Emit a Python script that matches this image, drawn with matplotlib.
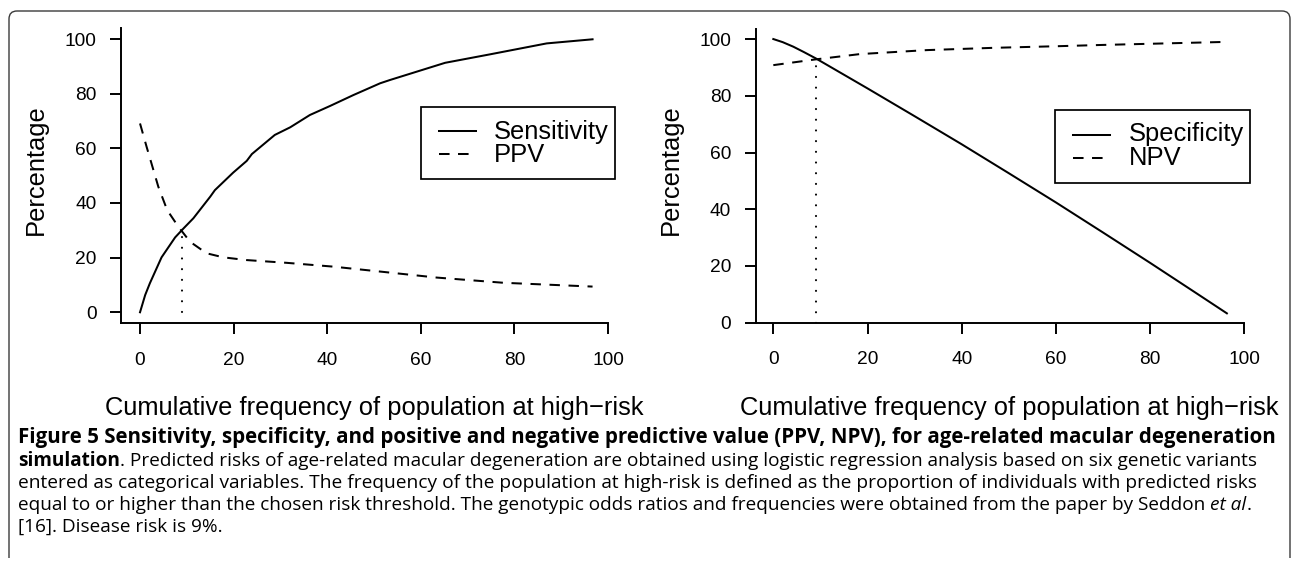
import matplotlib
matplotlib.use("Agg")
import matplotlib.pyplot as plt
from matplotlib.path import Path
from matplotlib.patches import PathPatch, Rectangle
from matplotlib.lines import Line2D
from matplotlib.transforms import Affine2D, blended_transform_factory

W, H, DPI = 1292, 568, 100

# values (percent)
sens_x = [0, 1.1, 2.1, 4.6, 7.5, 9.3, 11.4, 15.0, 16.0, 19.9, 22.8, 23.9, 28.8,
          32.1, 36.3, 40.6, 45.6, 51.3, 53.4, 65.2, 74.8, 86.9, 96.7]
sens_y = [0, 6.3, 10.6, 20.1, 27.4, 30.7, 34.4, 42.3, 44.7, 51.1, 55.4, 57.9, 64.9,
          67.7, 72.2, 75.5, 79.5, 83.8, 85.0, 91.3, 94.4, 98.4, 99.9]
ppv_x = [0, 1.4, 3.9, 5.8, 8.2, 10.7, 14.2, 17.8, 22.8, 31.3, 41.3, 51.3, 63.4, 77.6, 96.7]
ppv_y = [69.1, 60.6, 46.0, 37.4, 31.3, 25.8, 21.6, 20.1, 19.1, 18.1, 16.7, 14.9, 12.7, 10.8, 9.4]

spec_x = [0, 2, 4.25, 6.5, 9, 20, 30, 40, 50, 60, 70, 80, 90, 96.3]
spec_y = [100, 98.9, 97.3, 95.4, 93.2, 82.6, 72.8, 62.9, 52.7, 42.4, 31.8, 21.1, 10.2, 3.3]
npv_x = [0, 8.85, 18.4, 32.6, 46.7, 60.9, 69.4, 96.3]
npv_y = [90.8, 92.8, 94.7, 96.1, 96.9, 97.5, 97.9, 99.0]

risk = 9
cut_left = 29.8
cut_right = 92.8

xticks = [0, 20, 40, 60, 80, 100]
yticks = [0, 20, 40, 60, 80, 100]
xlab = "Cumulative frequency of population at high\u2212risk"
ylab = "Percentage"

caption = [
    [("Figure 5 Sensitivity, specificity, and positive and negative predictive value "
      "(PPV, NPV), for age-related macular degeneration", "bold", "normal")],
    [("simulation", "bold", "normal"),
     (". Predicted risks of age-related macular degeneration are obtained using logistic "
      "regression analysis based on six genetic variants", "normal", "normal")],
    [("entered as categorical variables. The frequency of the population at high-risk is "
      "defined as the proportion of individuals with predicted risks", "normal", "normal")],
    [("equal to or higher than the chosen risk threshold. The genotypic odds ratios and "
      "frequencies were obtained from the paper by Seddon", "normal", "normal"),
     (" et al", "normal", "italic"), (".", "normal", "normal")],
    [("[16]. Disease risk is 9%.", "normal", "normal")],
]
# right end of each caption line in the reference (pixels), None = same size as line above
caption_end = [1278, 1250, 1247, 1247, None]

plt.rcParams['font.family'] = ['Liberation Sans', 'DejaVu Sans']
plt.rcParams['lines.scale_dashes'] = False

LW = 1.45
BIG = 18.4
DASH = (0, (7.5, 6.2))

fig = plt.figure(figsize=(W / DPI, H / DPI), dpi=DPI)
# pixel coords measured from the top left corner
pix = Affine2D().scale(1 / W, -1 / H).translate(0, 1) + fig.transFigure


def panel(box, xlim, ylim, solid, dashed, cut, names, lbox, ylab_x):
    x0, y0, x1, y1 = box
    ax = fig.add_axes([x0 / W, 1 - y1 / H, (x1 - x0) / W, (y1 - y0) / H])
    ax.set_xlim(xlim)
    ax.set_ylim(ylim)
    ax.patch.set_visible(False)
    ax.plot(*solid, color='black', lw=LW, solid_joinstyle='round', clip_on=False)
    ax.plot(*dashed, color='black', lw=LW, linestyle=DASH, clip_on=False)
    ax.plot([risk, risk], [0, cut], color='black', lw=1.5,
            linestyle=(0, (0.1, 7.6)), dash_capstyle='round')
    for s in ('top', 'right'):
        ax.spines[s].set_visible(False)
    for s in ('left', 'bottom'):
        ax.spines[s].set_linewidth(1.4)
        ax.spines[s].set_capstyle('projecting')
    ax.set_xticks(xticks)
    ax.set_yticks(yticks)
    ax.tick_params(direction='out', length=8.2, width=1.4, labelsize=13.8, colors='black')
    ax.tick_params(axis='x', pad=12.3)
    ax.tick_params(axis='y', pad=9.5)

    tr = blended_transform_factory(ax.transData, pix)
    ax.text(50, 415, xlab, transform=tr, ha='center', va='baseline', fontsize=BIG)
    fig.text(ylab_x / W, 1 - 170 / H, ylab, rotation=90, ha='center', va='center', fontsize=BIG)

    # legend
    bx0, by0, bx1, by1, hx0, hx1, hy, ty, tx = lbox
    fig.add_artist(Rectangle((bx0, by0), bx1 - bx0, by1 - by0, transform=pix,
                             fill=False, lw=1.25, edgecolor='black'))
    fig.add_artist(Line2D([hx0, hx1], [hy[0], hy[0]], transform=pix, color='black', lw=LW))
    fig.add_artist(Line2D([hx0, hx1], [hy[1], hy[1]], transform=pix, color='black', lw=LW,
                          linestyle=(0, (7.6, 6.1))))
    for name, yy in zip(names, ty):
        fig.text(tx / W, 1 - yy / H, name, ha='left', va='baseline', fontsize=BIG)
    return ax


panel((121.3, 28.1, 608, 323.2), (-4, 100), (-4, 104), (sens_x, sens_y), (ppv_x, ppv_y),
      cut_left, ["Sensitivity", "PPV"],
      (420.7, 106.7, 615, 179.3, 439, 476, (130.7, 154), (138.5, 162.5), 494), 35.5)
panel((755.7, 29.4, 1244.3, 322.7), (-3.74, 100), (0, 103.4), (spec_x, spec_y), (npv_x, npv_y),
      cut_right, ["Specificity", "NPV"],
      (1055, 110, 1250, 182.7, 1072.7, 1110, (135, 158.3), (140.5, 165), 1129.3), 670.5)

# frame round the figure, open at the bottom
r = 8
verts = [(9, 558), (9, 11 + r), (9, 11), (9 + r, 11), (1290 - r, 11), (1290, 11),
         (1290, 11 + r), (1290, 558)]
codes = [Path.MOVETO, Path.LINETO, Path.CURVE3, Path.CURVE3, Path.LINETO,
         Path.CURVE3, Path.CURVE3, Path.LINETO]
fig.add_artist(PathPatch(Path(verts, codes), transform=pix, fill=False,
                         edgecolor='#3a3a3a', lw=1.0))

# caption
cap_font = ['Open Sans', 'DejaVu Sans']
renderer = fig.canvas.get_renderer()


def caption_line(parts, y, size):
    x = 18
    texts = []
    for txt, weight, style in parts:
        if txt.startswith(' '):
            txt = txt.lstrip()
            x += 0.26 * size * DPI / 72
        t = fig.text(x / W, 1 - y / H, txt, fontsize=size, fontweight=weight,
                     fontstyle=style, family=cap_font, ha='left', va='baseline')
        x = t.get_window_extent(renderer).x1
        texts.append(t)
    return texts, x


size = 12
for i, parts in enumerate(caption):
    y = 443.5 + 22 * i
    if caption_end[i] is not None:
        probe, end = caption_line(parts, y, 12)
        for t in probe:
            t.remove()
        size = 12 * (caption_end[i] - 18) / (end - 18)
    caption_line(parts, y, size)

fig.savefig('out.png', dpi=DPI)
